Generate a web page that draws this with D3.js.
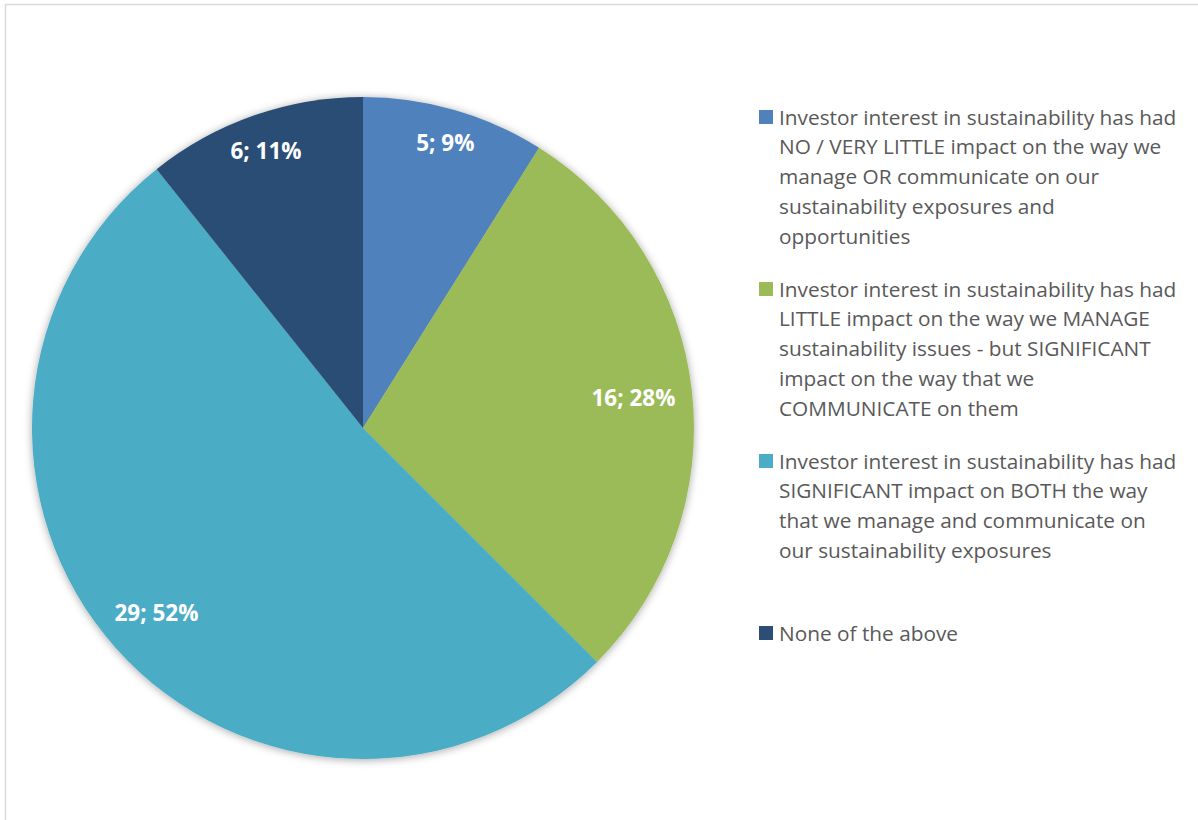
<!DOCTYPE html>
<html>
<head>
<meta charset="utf-8">
<script src="https://cdn.jsdelivr.net/npm/d3@7"></script>
<style>
  body { margin: 0; background: #fff; }
  svg { display: block; }
</style>
</head>
<body>
<div id="chart"></div>
<script>
// Chart data
const categories = [
  "Investor interest in sustainability has had\nNO / VERY LITTLE impact on the way we\nmanage OR communicate on our\nsustainability exposures and\nopportunities",
  "Investor interest in sustainability has had\nLITTLE impact on the way we MANAGE\nsustainability issues - but SIGNIFICANT\nimpact on the way that we\nCOMMUNICATE on them",
  "Investor interest in sustainability has had\nSIGNIFICANT impact on BOTH the way\nthat we manage and communicate on\nour sustainability exposures",
  "None of the above"
];
const counts = [5, 16, 29, 6];
const percents = [9, 28, 52, 11];
const colors = ["#4F81BD", "#9BBB59", "#4BACC6", "#2C4D75"];

const width = 1198, height = 820;
const cx = 363, cy = 428, radius = 331;
const fontFamily = "'Open Sans', sans-serif";

const svg = d3.select("#chart").append("svg")
  .attr("width", width)
  .attr("height", height);

// outer frame (runs off the right and bottom)
svg.append("rect")
  .attr("x", 5.5).attr("y", 4.5)
  .attr("width", width + 20).attr("height", height + 20)
  .attr("fill", "#fff")
  .attr("stroke", "#d9d9d9")
  .attr("stroke-width", 1.5);

const defs = svg.append("defs");
const shadow = defs.append("filter")
  .attr("id", "pieShadow")
  .attr("x", "-10%").attr("y", "-10%")
  .attr("width", "120%").attr("height", "120%");
shadow.append("feDropShadow")
  .attr("dx", 0).attr("dy", 1)
  .attr("stdDeviation", 4)
  .attr("flood-color", "#000")
  .attr("flood-opacity", 0.35);

const pie = d3.pie().sort(null).value(d => d);
const arcs = pie(counts);
const arc = d3.arc().innerRadius(0).outerRadius(radius);

const g = svg.append("g").attr("transform", `translate(${cx},${cy})`);

g.append("g")
  .attr("filter", "url(#pieShadow)")
  .selectAll("path")
  .data(arcs)
  .enter()
  .append("path")
    .attr("d", arc)
    .attr("fill", (d, i) => colors[i]);

// data labels, placed inside the outer edge ("inside end")
const labels = g.selectAll(".lbl")
  .data(arcs)
  .enter()
  .append("text")
    .attr("class", "lbl")
    .attr("text-anchor", "middle")
    .attr("dominant-baseline", "central")
    .attr("fill", "#fff")
    .style("font-family", fontFamily)
    .style("font-weight", "bold")
    .style("font-size", "22.5px")
    .text((d, i) => counts[i] + "; " + percents[i] + "%");

labels.each(function(d) {
  const w = this.getComputedTextLength(), h = 20;
  const a = (d.startAngle + d.endAngle) / 2;
  const r = radius - 16 - Math.abs(Math.sin(a)) * w / 2 - Math.abs(Math.cos(a)) * h / 2;
  d3.select(this)
    .attr("x", Math.sin(a) * r)
    .attr("y", -Math.cos(a) * r);
});

// legend
const legend = svg.append("g").attr("transform", "translate(759,116.5)");
const slot = 172, lineH = 29.8;

const item = legend.selectAll(".item")
  .data(categories)
  .enter()
  .append("g")
    .attr("class", "item")
    .attr("transform", (d, i) => `translate(0,${i * slot})`);

item.append("rect")
  .attr("x", 0).attr("y", -6.5)
  .attr("width", 14).attr("height", 14)
  .attr("fill", (d, i) => colors[i]);

item.append("text")
  .attr("x", 20)
  .attr("fill", "#595959")
  .style("font-family", fontFamily)
  .style("font-size", "20.8px")
  .selectAll("tspan")
  .data(d => d.split("\n"))
  .enter()
  .append("tspan")
    .attr("x", 20)
    .attr("y", (d, j) => j * lineH)
    .attr("dominant-baseline", "central")
    .text(d => d);
</script>
</body>
</html>
